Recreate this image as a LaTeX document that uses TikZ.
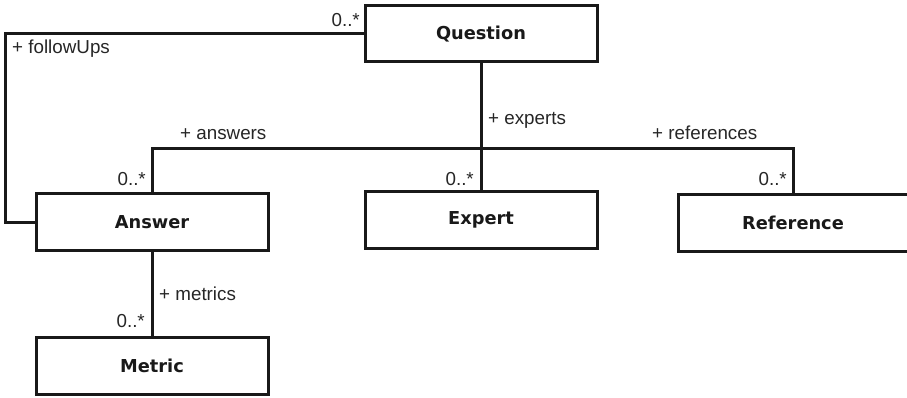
\documentclass[tikz,border=0pt]{standalone}
\usepackage{fontspec}
\setmainfont{Liberation Sans}
\newfontfamily\boxfont{DejaVu Sans}
\begin{document}
\begin{tikzpicture}[x=1pt,y=-1pt,
  cls/.style={draw=black!90, line width=3pt, fill=white, minimum width=232pt, minimum height=56pt,
    inner sep=0pt, font=\boxfont\bfseries\fontsize{17.8}{20}\selectfont, text=black!90},
  conn/.style={draw=black!90, line width=3pt},
  lbl/.style={font=\fontsize{18.8}{21}\selectfont, text=black!85, inner sep=0pt}]
\useasboundingbox (0,0) rectangle (907,398);
\node[cls] (Q) at (481,34) {Question};
\node[cls, minimum height=57pt] (A) at (152,222) {Answer};
\node[cls, minimum height=57pt] (E) at (481,220) {Expert};
\node[cls, minimum width=230pt, minimum height=57pt] (R) at (793,223) {Reference};
\node[cls, minimum height=57pt] (M) at (152,366) {Metric};
\coordinate (bus) at (481,149);
\coordinate (busL) at (152,149);
\coordinate (busR) at (793,149);
\coordinate (lt) at (5,34);
\coordinate (lb) at (5,222);
% followUps loop
\draw[conn] (Q.west) -- (lt) -- (lb) -- (A.west);
% bus
\draw[conn] (Q.south) -- (bus);
\draw[conn] (A.north) -- (busL) -- (busR) -- (R.north);
\draw[conn] (bus) -- (E.north);
\draw[conn] (A.south) -- (M.north);
% labels
\node[lbl, anchor=east] (l1) at (360,20) {0..*};
\node[lbl, anchor=west] (l2) at (12,49) {+ followUps};
\node[lbl, anchor=west] (l3) at (180,134) {+ answers};
\node[lbl, anchor=east] (l4) at (146,179) {0..*};
\node[lbl, anchor=west] (l5) at (488,120) {+ experts};
\node[lbl, anchor=east] (l6) at (474,179) {0..*};
\node[lbl, anchor=west] (l7) at (652,133) {+ references};
\node[lbl, anchor=east] (l8) at (787,179) {0..*};
\node[lbl, anchor=west] (l9) at (159,294) {+ metrics};
\node[lbl, anchor=east] (l10) at (145,321) {0..*};
\end{tikzpicture}
\end{document}
